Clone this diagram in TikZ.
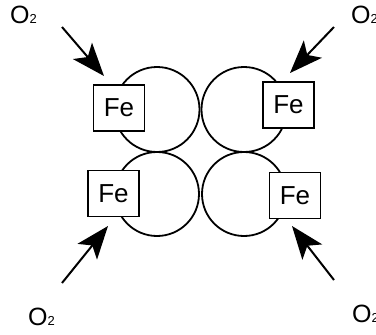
\documentclass[tikz,border=0pt]{standalone}
\usepackage{fontspec}
\setmainfont{Liberation Sans}
\usetikzlibrary{arrows.meta}
\tikzset{
  ball/.style={draw=black, line width=1.8pt},
  febox/.style={draw=black, fill=white, line width=1.8pt, minimum width=51pt, minimum height=46pt, inner sep=0pt, font=\fontsize{26}{28}\selectfont},
  oarrow/.style={line width=2pt, -{Stealth[length=33pt,width=25pt,inset=8pt]}},
  olabel/.style={anchor=base west, inner sep=0pt, font=\fontsize{25}{27}\selectfont}
}
\newcommand{\Otwo}{O{\fontsize{13}{14}\selectfont 2}}
\begin{document}
\begin{tikzpicture}[x=1pt, y=-1pt]
\useasboundingbox (0,0) rectangle (376,335);
% circles
\draw[ball] (157,109.5) circle (42.5pt) coordinate (c1);
\draw[ball] (244,109.5) circle (42.5pt) coordinate (c2);
\draw[ball] (157,194) circle (42pt) coordinate (c3);
\draw[ball] (244,194) circle (42pt) coordinate (c4);
% Fe boxes
\node[febox] (fe1) at (119,108) {Fe};
\node[febox] (fe2) at (288.5,105) {Fe};
\node[febox] (fe3) at (113.5,193.5) {Fe};
\node[febox] (fe4) at (295,195.5) {Fe};
% labels
\node[olabel] (o1) at (10,23) {\Otwo};
\node[olabel] (o2) at (351,23) {\Otwo};
\node[olabel] (o3) at (28,325) {\Otwo};
\node[olabel] (o4) at (352,322) {\Otwo};
% arrow ends
\coordinate (t1) at (62,27);  \coordinate (h1) at (104,76);
\coordinate (t2) at (334,27); \coordinate (h2) at (290,73);
\coordinate (t3) at (62,283); \coordinate (h3) at (108,226);
\coordinate (t4) at (334,280); \coordinate (h4) at (292,226);
\draw[oarrow] (t1) -- (h1);
\draw[oarrow] (t2) -- (h2);
\draw[oarrow] (t3) -- (h3);
\draw[oarrow] (t4) -- (h4);
\end{tikzpicture}
\end{document}
